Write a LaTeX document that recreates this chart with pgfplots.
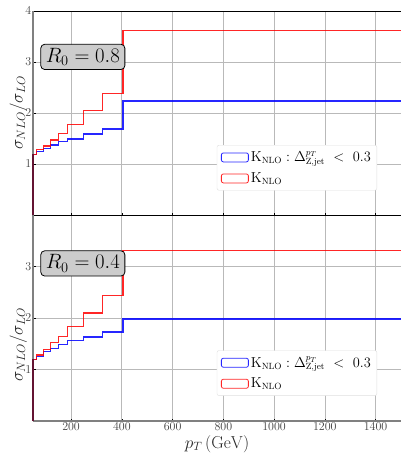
\documentclass[border=0pt,12pt]{standalone}
\usepackage{pgfplots}
\pgfplotsset{compat=1.18}
\definecolor{myblue}{RGB}{0,0,255}
\definecolor{myred}{RGB}{255,0,0}
\definecolor{maroon}{RGB}{100,20,50}
\tikzset{rbox/.style={draw=black, fill=gray!40, rounded corners=4pt, line width=0.8pt, inner xsep=5pt, inner ysep=4pt, font=\fontsize{22}{26}\selectfont}}
\pgfplotsset{
  legend image code/.code={\draw[#1, fill=none, line width=0.8pt] (0pt,-4.5pt) rectangle (27pt,4.5pt);},
  mystyle/.style={
    scale only axis, width=368pt, xmin=50, xmax=1500, ymin=0, ymax=4, clip=false,
    grid=major, grid style={gray!55, line width=0.7pt},
    axis line style={black, line width=0.6pt},
    tick pos=left, major tick length=2.5pt, tick style={black, line width=0.5pt},
    xtick={200,400,...,1400},
    /pgf/number format/1000 sep={},
    ticklabel style={black!75, font=\normalsize},
    yticklabel style={inner xsep=1.5pt},
    xticklabel style={inner ysep=2pt},
    ylabel={$\sigma_{NLO}/\sigma_{LO}$},
    legend style={at={(0.935,0.343)}, anchor=north east, draw=gray!25, rounded corners=2pt,
      fill=white, font=\fontsize{13.5}{15}\selectfont, row sep=5pt, inner xsep=4pt, inner ysep=4pt},
    legend cell align=left,
  },
  blueline/.style={draw=myblue, color=myblue, line width=1.3pt, sharp plot, mark=none, line join=miter, draw opacity=0.85},
  redline/.style={draw=myred, color=myred, line width=1.3pt, sharp plot, mark=none, line join=miter, draw opacity=0.85},
}
\begin{document}
\begin{tikzpicture}
\begin{axis}[mystyle, name=top, height=204pt, xticklabels={}, ytick={1,2,3,4},
  ylabel style={at={(axis description cs:-0.04,0.5)}, anchor=center, font=\Large, black!85}]
\draw[gray, line width=1.6pt] (rel axis cs:0,0) -- (rel axis cs:0,1);
\addplot[blueline] coordinates {(50,1.19)(65,1.19)(65,1.245)(90,1.245)(90,1.31)(120,1.31)(120,1.375)(150,1.375)(150,1.44)(185,1.44)(185,1.49)(250,1.49)(250,1.59)(325,1.59)(325,1.685)(405,1.685)(405,2.235)(1500,2.235)};
\addlegendentry{$\mathrm{K}_{\mathrm{NLO}}:\Delta^{p_T}_{\mathrm{Z,jet}}\ <\ 0.3$}
\addplot[redline] coordinates {(50,1.19)(65,1.19)(65,1.28)(90,1.28)(90,1.355)(120,1.355)(120,1.47)(150,1.47)(150,1.60)(185,1.60)(185,1.78)(250,1.78)(250,2.05)(325,2.05)(325,2.38)(405,2.38)(405,3.62)(1500,3.62)};
\addlegendentry{$\mathrm{K}_{\mathrm{NLO}}$}
\addplot[draw=maroon, line width=1.7pt, forget plot] coordinates {(50,0)(50,1.19)};
\node[rbox, anchor=west] at (rel axis cs:0.02,0.775) {$R_0 = 0.8$};
\end{axis}
\begin{axis}[mystyle, name=bot, at={(top.south west)}, anchor=north west, height=206pt, ytick={1,2,3},
  ylabel style={at={(axis description cs:-0.04,0.37)}, anchor=center, font=\Large, black!85},
  xlabel={$p_T\,(\mathrm{GeV})$},
  xlabel style={at={(axis description cs:0.5,-0.153)}, anchor=south, inner sep=0pt, font=\Large, black!85}]
\draw[gray, line width=1.6pt] (rel axis cs:0,0) -- (rel axis cs:0,1);
\draw[gray, line width=1.6pt] (rel axis cs:0,0) -- (rel axis cs:1,0);
\addplot[blueline] coordinates {(50,1.196)(65,1.196)(65,1.25)(90,1.25)(90,1.35)(120,1.35)(120,1.41)(150,1.41)(150,1.48)(185,1.48)(185,1.56)(250,1.56)(250,1.63)(325,1.63)(325,1.73)(405,1.73)(405,1.98)(1500,1.98)};
\addlegendentry{$\mathrm{K}_{\mathrm{NLO}}:\Delta^{p_T}_{\mathrm{Z,jet}}\ <\ 0.3$}
\addplot[redline] coordinates {(50,1.196)(65,1.196)(65,1.28)(90,1.28)(90,1.39)(120,1.39)(120,1.52)(150,1.52)(150,1.64)(185,1.64)(185,1.84)(250,1.84)(250,2.10)(325,2.10)(325,2.44)(405,2.44)(405,3.31)(1500,3.31)};
\addlegendentry{$\mathrm{K}_{\mathrm{NLO}}$}
\addplot[draw=maroon, line width=1.7pt, forget plot] coordinates {(50,0)(50,1.196)};
\node[rbox, anchor=west] at (rel axis cs:0.02,0.765) {$R_0 = 0.4$};
\end{axis}
\pgfresetboundingbox
\path ([shift={(-33pt,11pt)}]top.north west) rectangle ([shift={(0pt,-32pt)}]bot.south east);
\end{tikzpicture}
\end{document}
